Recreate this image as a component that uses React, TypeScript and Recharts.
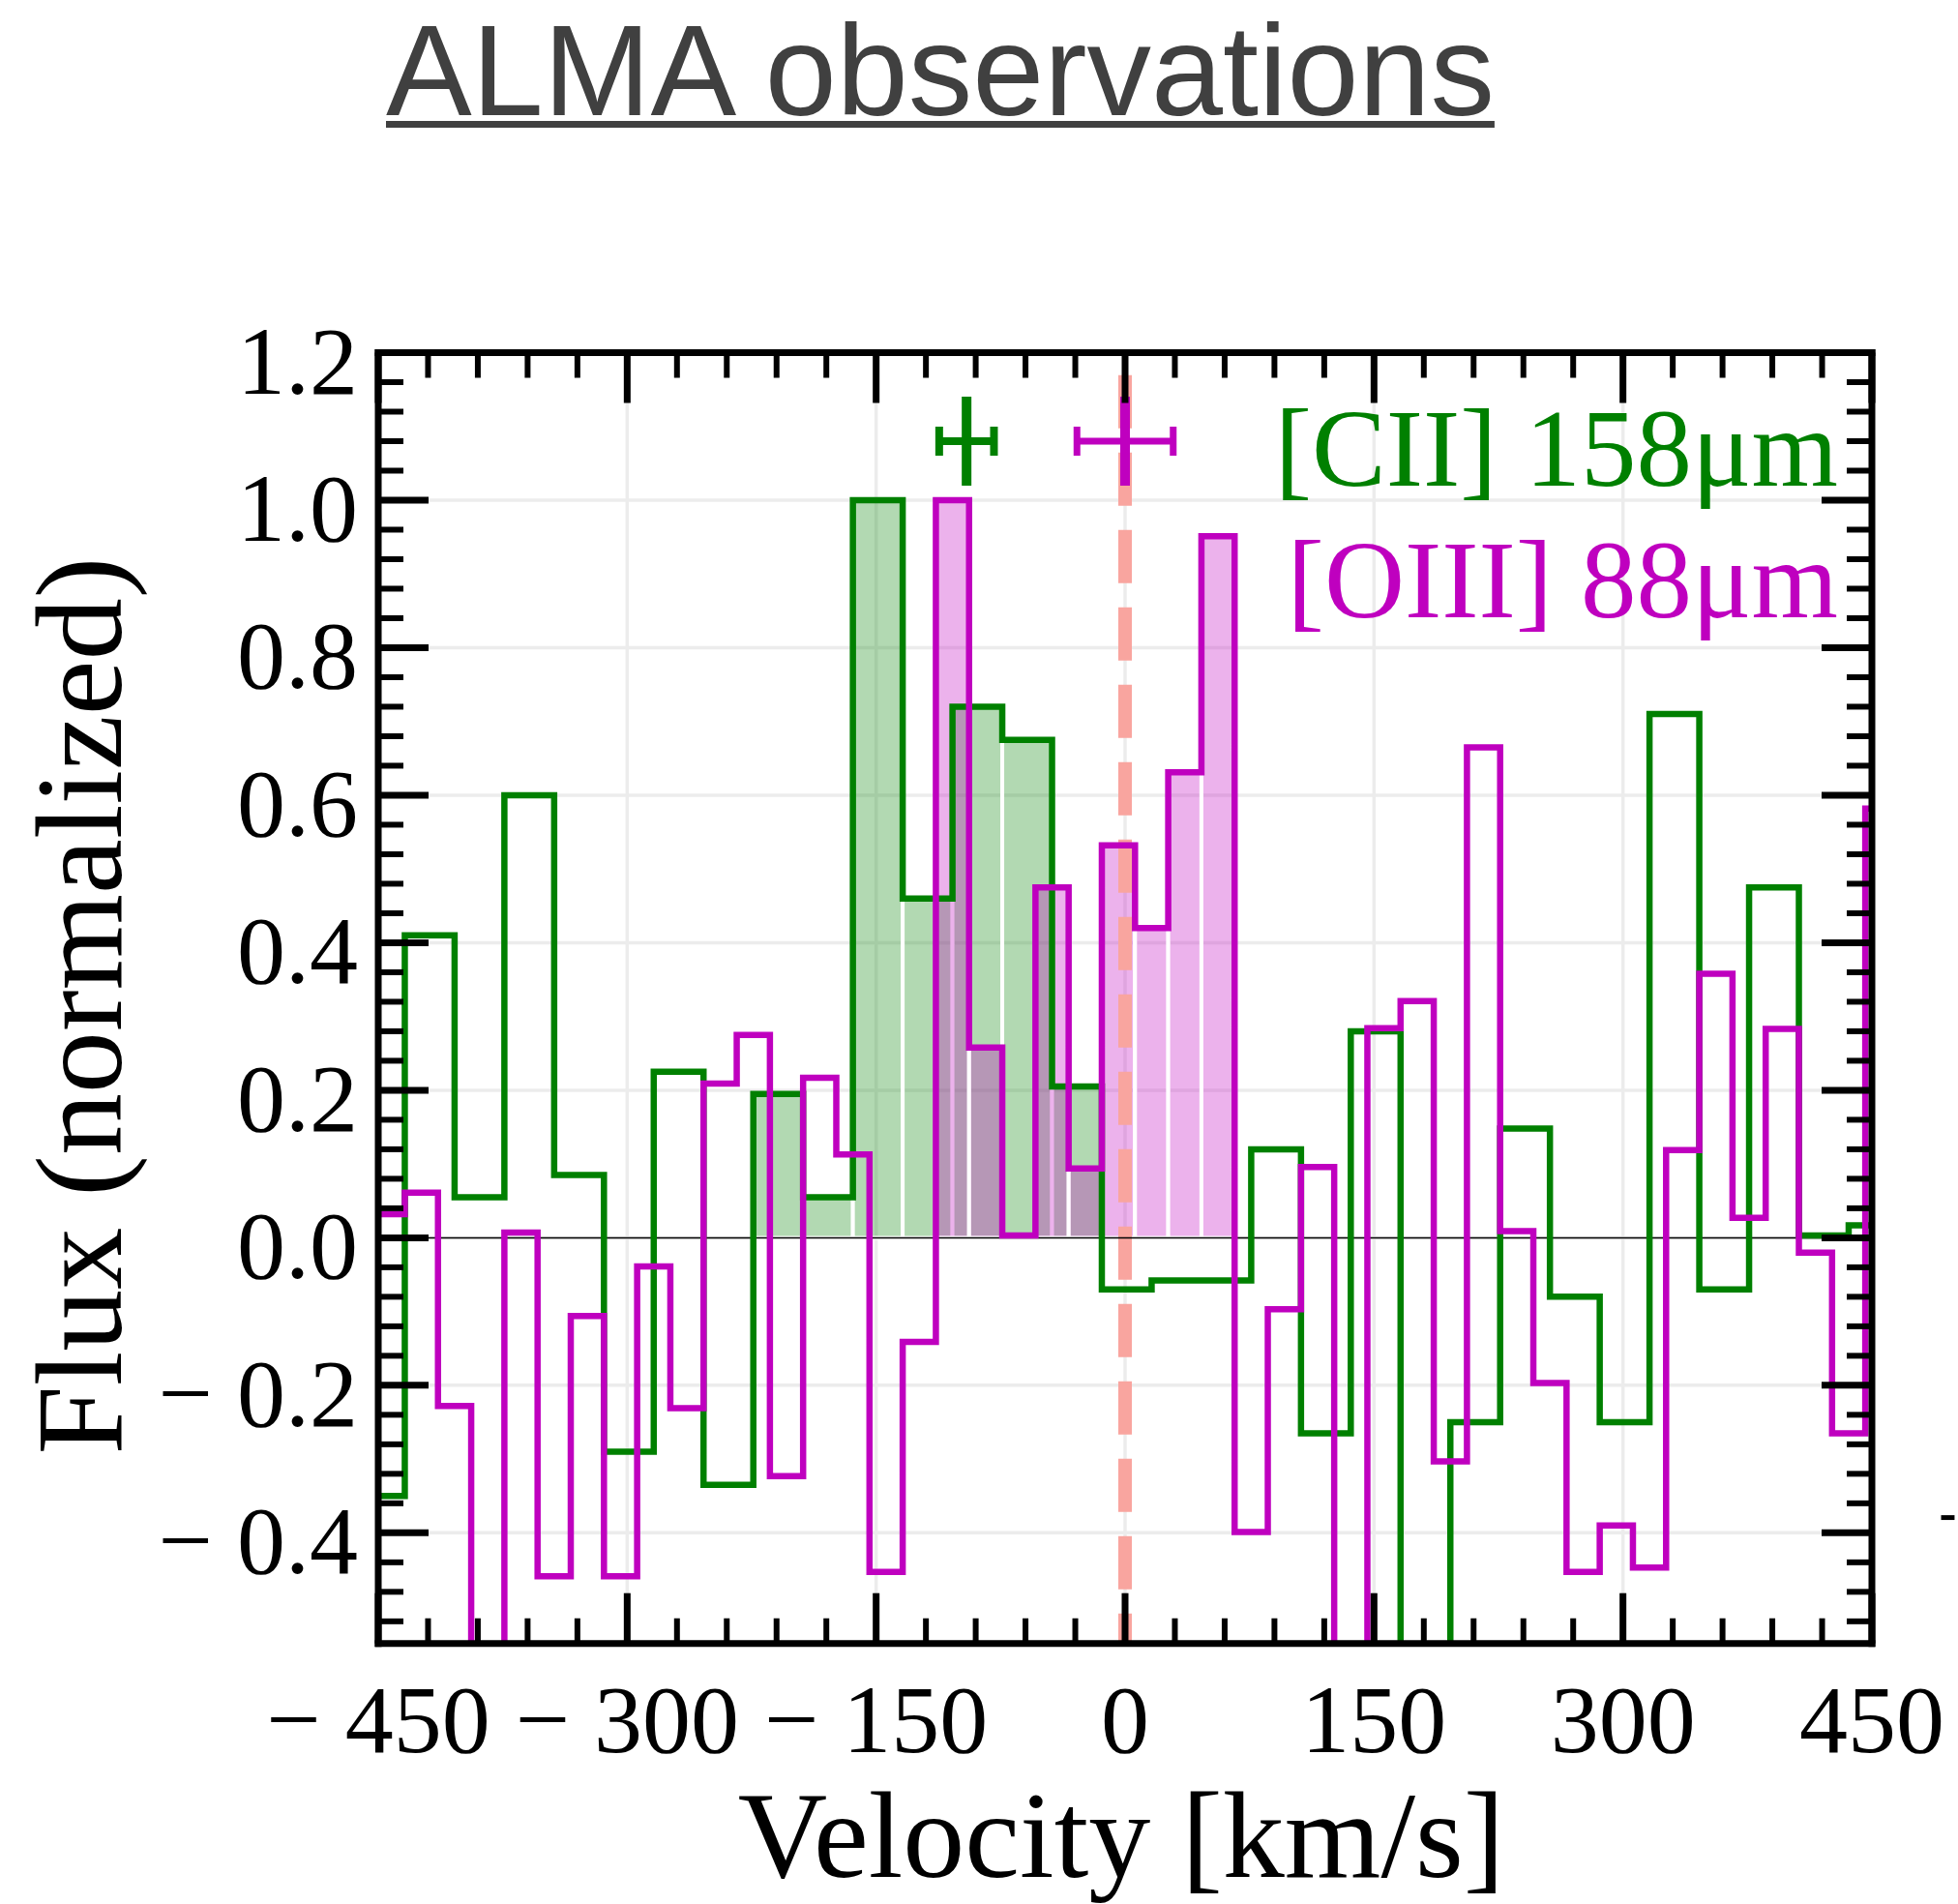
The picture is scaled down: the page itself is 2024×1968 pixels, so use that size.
import React from 'react';
import {
  ComposedChart, Line, Scatter, ErrorBar, XAxis, YAxis, CartesianGrid,
  ReferenceLine, ReferenceArea, Legend,
} from 'recharts';

// --- [CII] 158um : 30 km/s channels (left edge of each channel, km/s) ---
const ciiChannelLeft = [
  -464, -434, -404, -374, -344, -314, -284, -254, -224, -194, -164,
  -134, -104, -74, -44, -14, 16, 46, 76, 106, 136, 166, 196, 226,
  256, 286, 316, 346, 376, 406, 436,
];
const ciiChannelWidth = 30;
const ciiFlux = [
  -0.35, 0.41, 0.055, 0.60, 0.085, -0.29, 0.225, -0.335, 0.195, 0.055, 1.0,
  0.46, 0.72, 0.675, 0.205, -0.07, -0.058, -0.058, 0.12, -0.265, 0.28, -0.8, -0.25, 0.148,
  -0.08, -0.25, 0.71, -0.07, 0.475, 0.003, 0.017,
];

// --- [OIII] 88um : 20 km/s channels ---
const oiiiChannelLeft = [
  -454, -434, -414, -394, -374, -354, -334, -314, -294, -274, -254, -234,
  -214, -194, -174, -154, -134, -114, -94, -74, -54, -34, -14, 6, 26, 46,
  66, 86, 106, 126, 146, 166, 186, 206, 226, 246, 266, 286, 306, 326, 346,
  366, 386, 406, 426, 446,
];
const oiiiChannelWidth = 20;
const oiiiFlux = [
  0.032, 0.061, -0.228, -0.8, 0.007, -0.459, -0.106, -0.459, -0.039, -0.231, 0.209, 0.275,
  -0.323, 0.217, 0.113, -0.453, -0.141, 1.0, 0.258, 0.003, 0.475, 0.094, 0.532, 0.42, 0.631, 0.951,
  -0.399, -0.097, 0.096, -0.8, 0.284, 0.321, -0.303, 0.665, 0.009, -0.197, -0.453, -0.39, -0.447, 0.119, 0.358,
  0.027, 0.283, -0.02, -0.265, 0.582,
];

// velocity window of the shaded (line) channels
const ciiLineWindow = [-224, -14];
const oiiiLineWindow = [-114, 66];

// line centroids and their velocity errors
const ciiCentroid = [{ velocity: -95.5, flux: 1.08, err: 16.5 }];
const oiiiCentroid = [{ velocity: 0, flux: 1.08, err: 29 }];

const xMajorTicks = [-450, -300, -150, 0, 150, 300, 450];
const yMajorTicks = [-0.4, -0.2, 0, 0.2, 0.4, 0.6, 0.8, 1.0, 1.2];
// minor ticks every 30 km/s and every 0.04
const xTicks = Array.from({ length: 31 }, (_, i) => -450 + 30 * i);
const yTicks = Array.from({ length: 44 }, (_, i) => Math.round((-0.52 + 0.04 * i) * 100) / 100);

const GREEN = '#008000';
const MAGENTA = '#bf00bf';
const SERIF = '"Liberation Serif", "Times New Roman", serif';

// stepAfter needs one extra point to close the last channel
const toSteps = (left: number[], width: number, flux: number[]) => [
  ...left.map((v, i) => ({ velocity: v, flux: flux[i] })),
  { velocity: left[left.length - 1] + width, flux: flux[flux.length - 1] },
];

const toBars = (left: number[], width: number, flux: number[], win: number[]) =>
  left
    .map((v, i) => ({ x1: v, x2: v + width, flux: flux[i] }))
    .filter(b => b.x1 >= win[0] && b.x2 <= win[1]);

const ciiSteps = toSteps(ciiChannelLeft, ciiChannelWidth, ciiFlux);
const oiiiSteps = toSteps(oiiiChannelLeft, oiiiChannelWidth, oiiiFlux);
const ciiBars = toBars(ciiChannelLeft, ciiChannelWidth, ciiFlux, ciiLineWindow);
const oiiiBars = toBars(oiiiChannelLeft, oiiiChannelWidth, oiiiFlux, oiiiLineWindow);

// --- ticks (inward, matplotlib style) ---
const isMajor = (v: number, majors: number[]) => majors.some(m => Math.abs(m - v) < 1e-6);
const fmtX = (v: number) => (v < 0 ? `\u2212 ${-v}` : `${v}`);
const fmtY = (v: number) => (v < 0 ? `\u2212 ${(-v).toFixed(1)}` : v.toFixed(1));
const tickLen = (major: boolean) => (major ? 52 : 26);
const tickW = (major: boolean) => (major ? 7 : 6);

const BottomTick = ({ x, y, payload }: any) => {
  const major = isMajor(payload.value, xMajorTicks);
  return (
    <g>
      <line x1={x} x2={x} y1={y} y2={y - tickLen(major)} stroke="#000" strokeWidth={tickW(major)} />
      {major && (
        <text x={x} y={y + 112} textAnchor="middle" fontFamily={SERIF} fontSize={100} fill="#000">
          {fmtX(payload.value)}
        </text>
      )}
    </g>
  );
};

const TopTick = ({ x, y, payload }: any) => {
  const major = isMajor(payload.value, xMajorTicks);
  return <line x1={x} x2={x} y1={y} y2={y + tickLen(major)} stroke="#000" strokeWidth={tickW(major)} />;
};

const LeftTick = ({ x, y, payload }: any) => {
  const major = isMajor(payload.value, yMajorTicks);
  return (
    <g>
      <line x1={x} x2={x + tickLen(major)} y1={y} y2={y} stroke="#000" strokeWidth={tickW(major)} />
      {major && (
        <text x={x - 21} y={y + 42} textAnchor="end" fontFamily={SERIF} fontSize={100} fill="#000">
          {fmtY(payload.value)}
        </text>
      )}
    </g>
  );
};

const RightTick = ({ x, y, payload }: any) => {
  const major = isMajor(payload.value, yMajorTicks);
  return <line x1={x} x2={x - tickLen(major)} y1={y} y2={y} stroke="#000" strokeWidth={tickW(major)} />;
};

const renderXLabel = ({ viewBox }: any) => (
  <text x={viewBox.x + viewBox.width / 2 - 4} y={viewBox.y + 241} textAnchor="middle"
    fontFamily={SERIF} fontSize={128} fill="#000">
    Velocity [km/s]
  </text>
);

const renderYLabel = ({ viewBox }: any) => {
  const x = viewBox.x - 4;
  const cy = viewBox.y + viewBox.height / 2 + 8;
  return (
    <text x={x} y={cy} transform={`rotate(-90, ${x}, ${cy})`} textAnchor="middle"
      fontFamily={SERIF} fontSize={128} fill="#000">
      Flux (normalized)
    </text>
  );
};

const CentroidMark = ({ cx, cy, fill }: any) => (
  <rect x={cx - 5} y={cy - 46} width={10} height={92} fill={fill} />
);

const LegendContent = ({ payload }: any) => (
  <div style={{ textAlign: 'right', fontFamily: SERIF, fontSize: 115, lineHeight: '136px', whiteSpace: 'nowrap' }}>
    {(payload || []).filter((p: any) => p.type !== 'none').map((p: any) => (
      <div key={p.value} style={{ color: p.color }}>{p.value}</div>
    ))}
  </div>
);

const spine = { stroke: '#000', strokeWidth: 7, strokeLinecap: 'square' };

const App: React.FC = () => (
  <div style={{ position: 'absolute', left: 0, top: 0, width: 2024, height: 1968, background: '#fff', overflow: 'hidden' }}>
    <div style={{
      position: 'absolute', left: 399, top: 14, fontFamily: '"Liberation Sans", Arial, sans-serif',
      fontSize: 133, lineHeight: '118px', color: '#404040', whiteSpace: 'nowrap',
      textDecoration: 'underline', textDecorationThickness: '7px', textUnderlineOffset: '6px',
    }}>
      ALMA observations
    </div>

    <ComposedChart width={2024} height={1968} margin={{ top: 354.5, right: 79, bottom: 119.3, left: 129 }}>
      <CartesianGrid stroke="#ececec" strokeWidth={3.5} horizontalValues={yMajorTicks} verticalValues={xMajorTicks} />

      <ReferenceLine x={0} stroke="#f9a59f" strokeWidth={14} strokeDasharray="55 25" strokeDashoffset={24} />

      {ciiBars.map(b => (
        <ReferenceArea key={`cii${b.x1}`} x1={b.x1} x2={b.x2} y1={0} y2={b.flux}
          fill={GREEN} fillOpacity={0.3} stroke="#fff" strokeWidth={4} />
      ))}
      {oiiiBars.map(b => (
        <ReferenceArea key={`oiii${b.x1}`} x1={b.x1} x2={b.x2} y1={0} y2={b.flux}
          fill={MAGENTA} fillOpacity={0.3} stroke="#fff" strokeWidth={4} />
      ))}

      <ReferenceLine y={0} stroke="#000" strokeWidth={1.5} />

      <Line data={ciiSteps} dataKey="flux" name="[CII] 158μm" type="stepAfter" stroke={GREEN}
        strokeWidth={6.5} dot={false} activeDot={false} isAnimationActive={false} />
      <Line data={oiiiSteps} dataKey="flux" name="[OIII] 88μm" type="stepAfter" stroke={MAGENTA}
        strokeWidth={6.5} dot={false} activeDot={false} isAnimationActive={false} />

      <Scatter data={ciiCentroid} dataKey="flux" fill={GREEN} shape={CentroidMark} legendType="none" isAnimationActive={false}>
        <ErrorBar dataKey="err" direction="x" width={15} stroke={GREEN} strokeWidth={8} />
      </Scatter>
      <Scatter data={oiiiCentroid} dataKey="flux" fill={MAGENTA} shape={CentroidMark} legendType="none" isAnimationActive={false}>
        <ErrorBar dataKey="err" direction="x" width={15} stroke={MAGENTA} strokeWidth={7} />
      </Scatter>

      <XAxis dataKey="velocity" type="number" domain={[-450, 450]} allowDataOverflow ticks={xTicks} interval={0}
        height={150} tickSize={0} tickMargin={0} tickLine={false} tick={BottomTick} axisLine={spine}
        label={renderXLabel} />
      <XAxis xAxisId="top" orientation="top" dataKey="velocity" type="number" domain={[-450, 450]} allowDataOverflow
        ticks={xTicks} interval={0} height={10} tickSize={0} tickMargin={0} tickLine={false} tick={TopTick} axisLine={spine} />
      <YAxis type="number" domain={[-0.55, 1.2]} allowDataOverflow ticks={yTicks} interval={0}
        width={262} tickSize={0} tickMargin={0} tickLine={false} tick={LeftTick} axisLine={spine}
        label={renderYLabel} />
      <YAxis yAxisId="right" orientation="right" type="number" domain={[-0.55, 1.2]} allowDataOverflow
        ticks={yTicks} interval={0} width={10} tickSize={0} tickMargin={0} tickLine={false} tick={RightTick} axisLine={spine} />

      <Legend content={LegendContent} layout="horizontal" verticalAlign="middle" align="center"
        wrapperStyle={{ left: 1000, top: 396, width: 900 }} />
    </ComposedChart>

    {/* sliver of a neighbouring panel's tick label at the right edge */}
    <div style={{
      position: 'absolute', left: 2005, top: 1519, fontFamily: SERIF, fontSize: 100, lineHeight: '100px',
      transform: 'scaleX(0.3)', transformOrigin: 'left center',
    }}>
      {'\u2212'}
    </div>
  </div>
);

export default App;
